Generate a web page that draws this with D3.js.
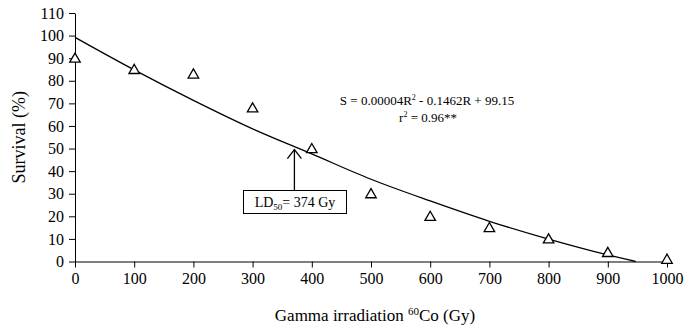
<!DOCTYPE html>
<html>
<head>
<meta charset="utf-8">
<script src="https://cdn.jsdelivr.net/npm/d3@7"></script>
<style>
  body { margin: 0; background: #fff; }
  svg text { font-family: "Liberation Serif", "Times New Roman", "DejaVu Serif", serif; }
</style>
</head>
<body>
<script>
// observed survival (%) per dose
const doses = [0, 100, 200, 300, 400, 500, 600, 700, 800, 900, 1000]
const survival = [90, 85, 83, 68, 50, 30, 20, 15, 10, 4, 1]

// trendline
const fitDoses = [0, 100, 200, 300, 400, 500, 600, 700, 800, 900, 947]
const fitSurvival = [99.2, 84.8, 71.3, 58.7, 47.6, 36.4, 26.8, 17.8, 9.9, 2.9, 0]

const xTicks = [0, 100, 200, 300, 400, 500, 600, 700, 800, 900, 1000]
const yTicks = [0, 10, 20, 30, 40, 50, 60, 70, 80, 90, 100, 110]
const ld50 = 374

const width = 689
const height = 333
const margin = { top: 13, left: 75, bottom: 71, right: 21 }

const svg = d3.select('body').append('svg')
  .attr('width', width)
  .attr('height', height)

const x = d3.scaleLinear().domain([0, 1000]).range([margin.left, width - margin.right - 1])
const y = d3.scaleLinear().domain([0, 110]).range([height - margin.bottom - 0.5, margin.top])

const xAxis = d3.axisBottom(x).tickValues(xTicks).tickFormat(d3.format('d'))
  .tickSize(6).tickSizeOuter(0).tickPadding(5)
const yAxis = d3.axisLeft(y).tickValues(yTicks).tickFormat(d3.format('d'))
  .tickSize(6).tickSizeOuter(0).tickPadding(5)

svg.append('g')
  .attr('transform', `translate(0, ${y(0)})`)
  .call(xAxis)
  .attr('font-family', null)
  .call(g => g.select('.domain').attr('stroke', '#000'))
  .call(g => g.selectAll('text').attr('font-size', 16).attr('fill', '#000'))

svg.append('g')
  .attr('transform', `translate(${x(0)}, 0)`)
  .call(yAxis)
  .attr('font-family', null)
  .call(g => g.select('.domain').attr('stroke', '#000'))
  .call(g => g.selectAll('text').attr('font-size', 16).attr('fill', '#000'))

// fitted curve
const line = d3.line()
  .x((d, i) => x(fitDoses[i]))
  .y(d => y(d))
  .curve(d3.curveMonotoneX)

svg.append('path')
  .datum(fitSurvival)
  .attr('fill', 'none')
  .attr('stroke', '#000')
  .attr('stroke-width', 1.3)
  .attr('d', line)

// open triangle markers
const tri = d3.symbol().type(d3.symbolTriangle).size(48)
svg.selectAll('.pt')
  .data(survival)
  .enter()
  .append('path')
  .attr('class', 'pt')
  .attr('d', tri)
  .attr('transform', (d, i) => `translate(${x(doses[i])}, ${y(d) + 1})`)
  .attr('fill', '#fff')
  .attr('stroke', '#000')
  .attr('stroke-width', 1.3)

// equation
svg.append('text')
  .attr('x', 427).attr('y', 105)
  .attr('text-anchor', 'middle')
  .attr('font-size', 13)
  .html('S = 0.00004R<tspan dy="-5" font-size="8">2</tspan><tspan dy="5"> - 0.1462R + 99.15</tspan>')

svg.append('text')
  .attr('x', 428).attr('y', 122)
  .attr('text-anchor', 'middle')
  .attr('font-size', 13)
  .html('r<tspan dy="-5" font-size="8">2</tspan><tspan dy="5"> = 0.96**</tspan>')

// LD50 arrow and box
const ax = x(ld50) - 2
const boxTop = 190
svg.append('line')
  .attr('x1', ax).attr('x2', ax)
  .attr('y1', boxTop).attr('y2', y(50) + 1)
  .attr('stroke', '#000').attr('stroke-width', 1.3)
svg.append('path')
  .attr('d', `M${ax - 7},${y(50) + 10} L${ax},${y(50) + 1} L${ax + 7},${y(50) + 10}`)
  .attr('fill', 'none').attr('stroke', '#000').attr('stroke-width', 1.3)

svg.append('rect')
  .attr('x', 243.5).attr('y', boxTop + 0.5)
  .attr('width', 103).attr('height', 23)
  .attr('fill', '#fff').attr('stroke', '#000').attr('stroke-width', 1)

svg.append('text')
  .attr('x', 295).attr('y', 207)
  .attr('text-anchor', 'middle')
  .attr('font-size', 14)
  .html(`LD<tspan dy="3" font-size="9">50</tspan><tspan dy="-3">= ${ld50} Gy</tspan>`)

// axis titles
svg.append('text')
  .attr('transform', `translate(25, ${(y(0) + y(110)) / 2}) rotate(-90)`)
  .attr('text-anchor', 'middle')
  .attr('font-size', 18)
  .text('Survival (%)')

svg.append('text')
  .attr('x', 375).attr('y', 321)
  .attr('text-anchor', 'middle')
  .attr('font-size', 17)
  .html('Gamma irradiation <tspan dy="-6" font-size="11">60</tspan><tspan dy="6">Co (Gy)</tspan>')
</script>
</body>
</html>
